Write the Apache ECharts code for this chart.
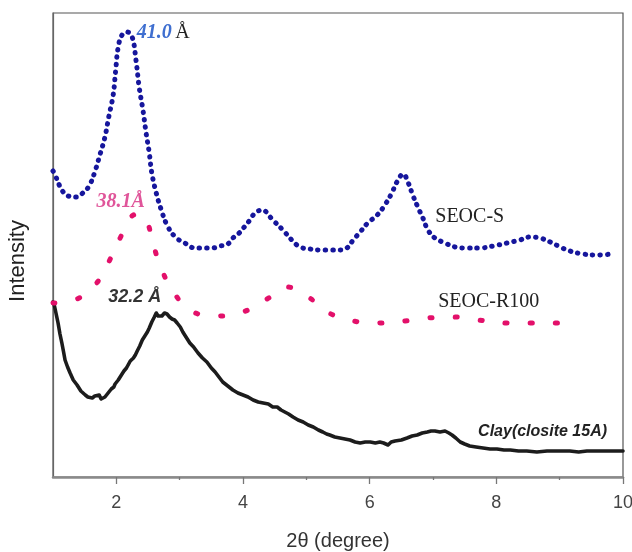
<!DOCTYPE html>
<html>
<head>
<meta charset="utf-8">
<script src="https://cdn.jsdelivr.net/npm/echarts@6/dist/echarts.min.js"></script>
<style>
  html, body { margin: 0; padding: 0; background: #ffffff; }
  #chart { width: 632px; height: 552px; }
</style>
</head>
<body>
<div id="chart"></div>
<script>
// XRD patterns: 2θ (degree) vs. intensity (arbitrary units, curves stacked)
const majorTicks = [2, 4, 6, 8, 10];
const minorTicks = [3, 5, 7, 9];

// SEOC-S (blue dotted)
const seocS = [
  [1.00, 306], [1.02, 304], [1.14, 287], [1.24, 281], [1.36, 280], [1.47, 284],
  [1.57, 291], [1.66, 305], [1.74, 322], [1.82, 340], [1.88, 360], [1.95, 382],
  [1.99, 407], [2.03, 430], [2.09, 442], [2.17, 445], [2.25, 440], [2.31, 417],
  [2.36, 390], [2.42, 367], [2.47, 344], [2.52, 324], [2.56, 304], [2.63, 284],
  [2.71, 267], [2.80, 252], [2.93, 240], [3.08, 234], [3.24, 229], [3.37, 229],
  [3.51, 229], [3.64, 231], [3.76, 233], [3.84, 239], [3.94, 244], [4.02, 250],
  [4.11, 257], [4.19, 264], [4.30, 267], [4.47, 257], [4.63, 247], [4.77, 237],
  [4.90, 230], [5.06, 228], [5.22, 227], [5.37, 227], [5.53, 227], [5.64, 229],
  [5.74, 237], [5.85, 245], [5.97, 254], [6.12, 262], [6.24, 272], [6.35, 284],
  [6.43, 295], [6.53, 303], [6.61, 294], [6.68, 282], [6.76, 270], [6.84, 259],
  [6.92, 247], [7.03, 239], [7.19, 234], [7.35, 230], [7.54, 229], [7.74, 229],
  [7.95, 231], [8.17, 234], [8.37, 237], [8.53, 240], [8.69, 239], [8.85, 235],
  [9.01, 230], [9.16, 226], [9.37, 223], [9.59, 222], [9.82, 223]
];

// SEOC-R100 (pink dotted)
const seocR100 = [
  [1.00, 174], [1.38, 178], [1.69, 194], [1.88, 215], [2.06, 239], [2.23, 260],
  [2.36, 263], [2.48, 256], [2.59, 231], [2.72, 207], [2.91, 184], [3.21, 165],
  [3.61, 161], [4.00, 165], [4.38, 178], [4.69, 190], [5.03, 180], [5.36, 164],
  [5.74, 156], [6.15, 154], [6.56, 156], [6.92, 159], [7.32, 160], [7.71, 157],
  [8.17, 154], [8.56, 154], [8.97, 154], [9.14, 154]
];

// Clay (closite 15A) (black, noisy)
const clay = [
  [1.00, 175], [1.02, 172], [1.05, 163], [1.08, 154], [1.11, 143], [1.14, 134],
  [1.17, 124], [1.19, 117], [1.23, 110], [1.27, 104], [1.32, 97], [1.38, 92],
  [1.44, 86], [1.51, 82], [1.55, 80], [1.58, 81], [1.62, 79], [1.66, 81],
  [1.69, 81], [1.73, 82], [1.76, 78], [1.79, 76], [1.82, 80], [1.87, 84],
  [1.92, 88], [1.96, 90], [1.98, 93], [2.03, 97], [2.06, 99], [2.09, 103], [2.12, 106], [2.16, 109],
  [2.19, 111], [2.22, 116], [2.27, 119], [2.30, 122], [2.33, 126], [2.37, 131], [2.41, 137],
  [2.45, 141], [2.49, 145], [2.52, 149], [2.56, 155], [2.60, 160], [2.63, 164],
  [2.66, 161], [2.69, 160], [2.72, 161], [2.76, 164], [2.80, 163], [2.84, 160],
  [2.88, 158], [2.92, 157], [2.96, 154], [3.01, 150], [3.05, 145], [3.10, 140],
  [3.16, 134], [3.22, 130], [3.29, 124], [3.36, 119], [3.43, 115], [3.50, 109],
  [3.56, 105], [3.62, 100], [3.68, 95], [3.76, 91], [3.84, 87], [3.92, 84],
  [4.00, 82], [4.08, 80], [4.16, 77], [4.24, 75], [4.32, 74], [4.40, 73],
  [4.47, 70], [4.54, 70], [4.60, 67], [4.66, 65], [4.72, 63], [4.79, 60],
  [4.87, 57], [4.95, 55], [5.03, 52], [5.11, 50], [5.19, 47], [5.26, 45],
  [5.32, 43], [5.37, 42], [5.45, 40], [5.53, 39], [5.61, 38], [5.69, 37],
  [5.77, 35], [5.85, 34], [5.93, 35], [6.01, 35], [6.09, 34], [6.16, 35],
  [6.22, 34], [6.29, 32], [6.34, 35], [6.40, 36], [6.50, 37], [6.59, 39],
  [6.67, 41], [6.75, 42], [6.83, 44], [6.91, 45], [6.97, 46], [7.03, 46],
  [7.11, 45], [7.19, 46], [7.25, 44], [7.30, 42], [7.36, 39], [7.43, 35],
  [7.50, 33], [7.58, 31], [7.68, 30], [7.79, 29], [7.90, 28], [8.01, 28],
  [8.12, 27], [8.22, 27], [8.35, 26], [8.48, 26], [8.64, 25], [8.80, 26],
  [8.98, 26], [9.16, 26], [9.30, 25], [9.43, 26], [9.60, 26], [9.75, 26],
  [9.88, 26], [10.0, 26]
];

const chart = echarts.init(document.getElementById('chart'), null, { renderer: 'canvas' });

const serif = '"Liberation Serif", "Times New Roman", serif';
const sans = '"Liberation Sans", Arial, sans-serif';

function note(coord, text, style) {
  return {
    coord: coord,
    symbol: 'circle',
    symbolSize: 0,
    label: Object.assign({ show: true, position: 'inside', formatter: text }, style)
  };
}

chart.setOption({
  animation: false,
  backgroundColor: '#ffffff',
  grid: {
    left: 53, top: 13, right: 9, bottom: 75,
    outerBoundsMode: 'none', containLabel: false,
    show: true, borderColor: '#555555', borderWidth: 1.2, backgroundColor: 'transparent'
  },
  xAxis: [
    {
      type: 'value', min: 1, max: 10, position: 'bottom',
      name: '2θ (degree)', nameLocation: 'middle', nameGap: 54,
      nameTextStyle: { fontFamily: sans, fontSize: 20, color: '#333333' },
      axisLine: { show: true, onZero: false, lineStyle: { color: '#8a8a8a', width: 2.5 } },
      axisTick: { show: true, customValues: majorTicks, length: 7, lineStyle: { color: '#777777', width: 1.3 } },
      axisLabel: { show: true, customValues: majorTicks, margin: 17, fontFamily: sans, fontSize: 18, color: '#444444' },
      splitLine: { show: false }
    },
    {
      type: 'value', min: 1, max: 10, position: 'bottom',
      axisLine: { show: false, onZero: false },
      axisTick: { show: true, customValues: minorTicks, length: 3, lineStyle: { color: '#777777', width: 1.3 } },
      axisLabel: { show: false },
      splitLine: { show: false }
    }
  ],
  yAxis: {
    type: 'value', min: 0, max: 464,
    name: 'Intensity', nameLocation: 'middle', nameGap: 24,
    nameTextStyle: { fontFamily: sans, fontSize: 22, color: '#222222', padding: [0, 32, 0, 0] },
    axisLine: { show: true, lineStyle: { color: '#666666', width: 1.2 } },
    axisTick: { show: false },
    axisLabel: { show: false },
    splitLine: { show: false }
  },
  series: [
    {
      name: 'Clay(closite 15A)', type: 'line', data: clay, smooth: false,
      showSymbol: false, clip: true,
      lineStyle: { color: '#1c1c1c', width: 3.6, join: 'round', cap: 'round' },
      markPoint: {
        silent: true,
        data: [
          note([8.73, 45], 'Clay(closite 15A)', { fontFamily: sans, fontStyle: 'italic', fontWeight: 'bold', fontSize: 16, color: '#222222' }),
          note([2.29, 180], '32.2 Å', { fontFamily: sans, fontStyle: 'italic', fontWeight: 'bold', fontSize: 18, color: '#333333' })
        ]
      }
    },
    {
      name: 'SEOC-R100', type: 'line', data: seocR100, smooth: 0.4,
      showSymbol: false, clip: true,
      lineStyle: { color: '#e3106a', width: 5, type: [2, 23.2], cap: 'round' },
      markPoint: {
        silent: true,
        data: [
          note([7.88, 175], 'SEOC-R100', { fontFamily: serif, fontSize: 20, color: '#222222' }),
          note([2.07, 275], '38.1Å', { fontFamily: serif, fontStyle: 'italic', fontWeight: 'bold', fontSize: 20, color: '#e0559a' })
        ]
      }
    },
    {
      name: 'SEOC-S', type: 'line', data: seocS, smooth: 0.4,
      showSymbol: false, clip: true,
      lineStyle: { color: '#16169c', width: 5, type: [0.5, 7], cap: 'round' },
      markPoint: {
        silent: true,
        data: [
          note([7.58, 260], 'SEOC-S', { fontFamily: serif, fontSize: 20, color: '#222222' }),
          note([2.74, 444], '{v|41.0} {u|Å}', {
            rich: {
              v: { fontFamily: serif, fontStyle: 'italic', fontWeight: 'bold', fontSize: 20, color: '#3f6fd0' },
              u: { fontFamily: serif, fontSize: 20, color: '#222222' }
            }
          })
        ]
      }
    }
  ]
});
</script>
</body>
</html>
